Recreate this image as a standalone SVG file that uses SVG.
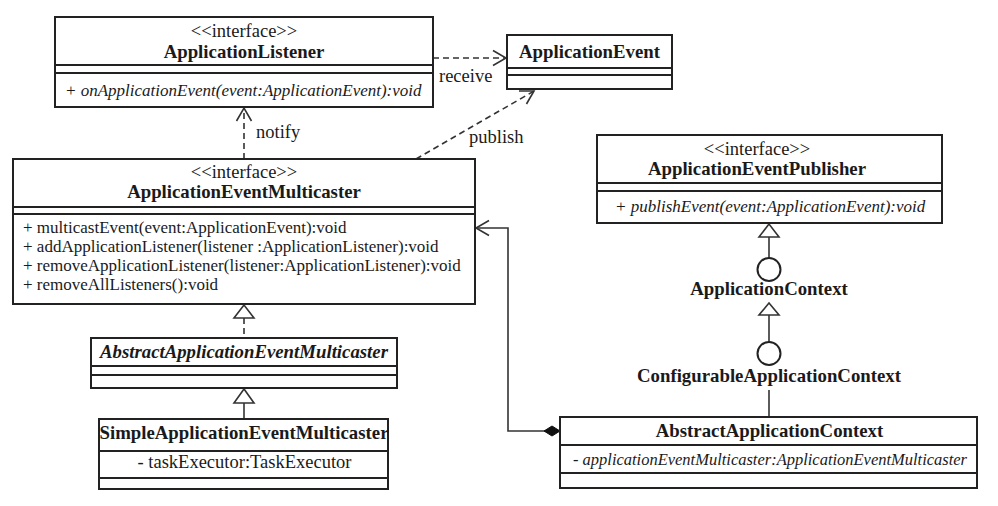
<svg xmlns="http://www.w3.org/2000/svg" width="998" height="506" viewBox="0 0 998 506">
<style>
text{font-family:'Liberation Serif','Times New Roman',serif;fill:#1a1a1a}
.st{font-size:18.5px;text-anchor:middle}
.t{font-size:18.8px;font-weight:bold;text-anchor:middle}
.ti{font-size:18.8px;font-weight:bold;font-style:italic;text-anchor:middle}
.m{font-size:17px}
.mi{font-size:17px;font-style:italic}
.lb{font-size:18.5px}
.box{fill:#fff;stroke:#222;stroke-width:2}
.div{stroke:#222;stroke-width:2}
.c{fill:none;stroke:#333;stroke-width:1.6}
.d{stroke-dasharray:6 4}
.tri{fill:#fff;stroke:#333;stroke-width:1.6}
.lol{fill:#fff;stroke:#222;stroke-width:2}
</style>
<defs>
<marker id="open" markerUnits="userSpaceOnUse" markerWidth="20" markerHeight="20" viewBox="-15 -10 17 20" refX="0" refY="0" orient="auto">
<path d="M-13,-7.5 L0,0 L-13,7.5" fill="none" stroke="#333" stroke-width="1.6"/>
</marker>
<marker id="diamond" markerUnits="userSpaceOnUse" markerWidth="20" markerHeight="14" viewBox="-1 -7 20 14" refX="0" refY="0" orient="auto">
<path d="M0,0 L8,-5 L16,0 L8,5 Z" fill="#111" stroke="#111" stroke-width="1"/>
</marker>
</defs>

<g id="connectors">
<line class="c d" x1="433" y1="58" x2="506" y2="58" marker-end="url(#open)"/>
<line class="c d" x1="244" y1="159" x2="244" y2="108" marker-end="url(#open)"/>
<line class="c d" x1="416" y1="159" x2="534" y2="91" marker-end="url(#open)"/>
<path class="c" d="M560,431 L508,431 L508,228 L476,228" marker-start="url(#diamond)" marker-end="url(#open)"/>
<line class="c d" x1="244" y1="318" x2="244" y2="338"/>
<polygon class="tri" points="244,305 234,318 254,318"/>
<line class="c" x1="244" y1="403" x2="244" y2="419"/>
<polygon class="tri" points="244,389 234,403 254,403"/>
<line class="c" x1="769" y1="237" x2="769" y2="258"/>
<polygon class="tri" points="769,224 759,237 779,237"/>
<line class="c" x1="769" y1="315" x2="769" y2="342"/>
<polygon class="tri" points="769,303 759,315 779,315"/>
<line class="c" x1="769" y1="390" x2="769" y2="417"/>
<text class="lb" x="439" y="82">receive</text>
<text class="lb" x="256" y="138">notify</text>
<text class="lb" x="469" y="143">publish</text>
</g>

<g id="ApplicationListener">
<rect class="box" x="55" y="17" width="378" height="90"/>
<line class="div" x1="55" y1="65" x2="433" y2="65"/>
<line class="div" x1="55" y1="73" x2="433" y2="73"/>
<text class="st" x="244" y="37">&lt;&lt;interface&gt;&gt;</text>
<text class="t" x="244" y="58">ApplicationListener</text>
<text class="mi" x="65" y="96">+ onApplicationEvent(event:ApplicationEvent):void</text>
</g>

<g id="ApplicationEvent">
<rect class="box" x="507" y="35" width="165" height="54"/>
<line class="div" x1="507" y1="68" x2="672" y2="68"/>
<line class="div" x1="507" y1="75" x2="672" y2="75"/>
<text class="t" x="589.5" y="58">ApplicationEvent</text>
</g>

<g id="ApplicationEventMulticaster">
<rect class="box" x="13" y="159" width="462" height="145"/>
<line class="div" x1="13" y1="207" x2="475" y2="207"/>
<line class="div" x1="13" y1="214" x2="475" y2="214"/>
<text class="st" x="244" y="178">&lt;&lt;interface&gt;&gt;</text>
<text class="t" x="244" y="198">ApplicationEventMulticaster</text>
<text class="m" x="23" y="233">+ multicastEvent(event:ApplicationEvent):void</text>
<text class="m" x="23" y="252">+ addApplicationListener(listener :ApplicationListener):void</text>
<text class="m" x="23" y="271">+ removeApplicationListener(listener:ApplicationListener):void</text>
<text class="m" x="23" y="290">+ removeAllListeners():void</text>
</g>

<g id="AbstractApplicationEventMulticaster">
<rect class="box" x="91" y="338" width="306" height="50"/>
<line class="div" x1="91" y1="366" x2="397" y2="366"/>
<line class="div" x1="91" y1="375" x2="397" y2="375"/>
<text class="ti" x="244" y="358">AbstractApplicationEventMulticaster</text>
</g>

<g id="SimpleApplicationEventMulticaster">
<rect class="box" x="99" y="419" width="289" height="70"/>
<line class="div" x1="99" y1="451" x2="388" y2="451"/>
<line class="div" x1="99" y1="478" x2="388" y2="478"/>
<text class="t" x="244" y="439">SimpleApplicationEventMulticaster</text>
<text class="st" x="244.5" y="468">- taskExecutor:TaskExecutor</text>
</g>

<g id="ApplicationEventPublisher">
<rect class="box" x="597" y="135" width="345" height="88"/>
<line class="div" x1="597" y1="183" x2="942" y2="183"/>
<line class="div" x1="597" y1="191" x2="942" y2="191"/>
<text class="st" x="757" y="155">&lt;&lt;interface&gt;&gt;</text>
<text class="t" x="757" y="175">ApplicationEventPublisher</text>
<text class="mi" x="615" y="212">+ publishEvent(event:ApplicationEvent):void</text>
</g>

<g id="ApplicationContext">
<circle class="lol" cx="769" cy="269.5" r="11.5"/>
<text class="t" x="769" y="295">ApplicationContext</text>
</g>

<g id="ConfigurableApplicationContext">
<circle class="lol" cx="769" cy="353.5" r="11.5"/>
<text class="t" x="769" y="382">ConfigurableApplicationContext</text>
</g>

<g id="AbstractApplicationContext">
<rect class="box" x="560" y="417" width="417" height="71"/>
<line class="div" x1="560" y1="445" x2="977" y2="445"/>
<line class="div" x1="560" y1="473" x2="977" y2="473"/>
<text class="t" x="769.5" y="437">AbstractApplicationContext</text>
<text class="mi" x="573" y="465" textLength="394" lengthAdjust="spacingAndGlyphs">- applicationEventMulticaster:ApplicationEventMulticaster</text>
</g>
</svg>
